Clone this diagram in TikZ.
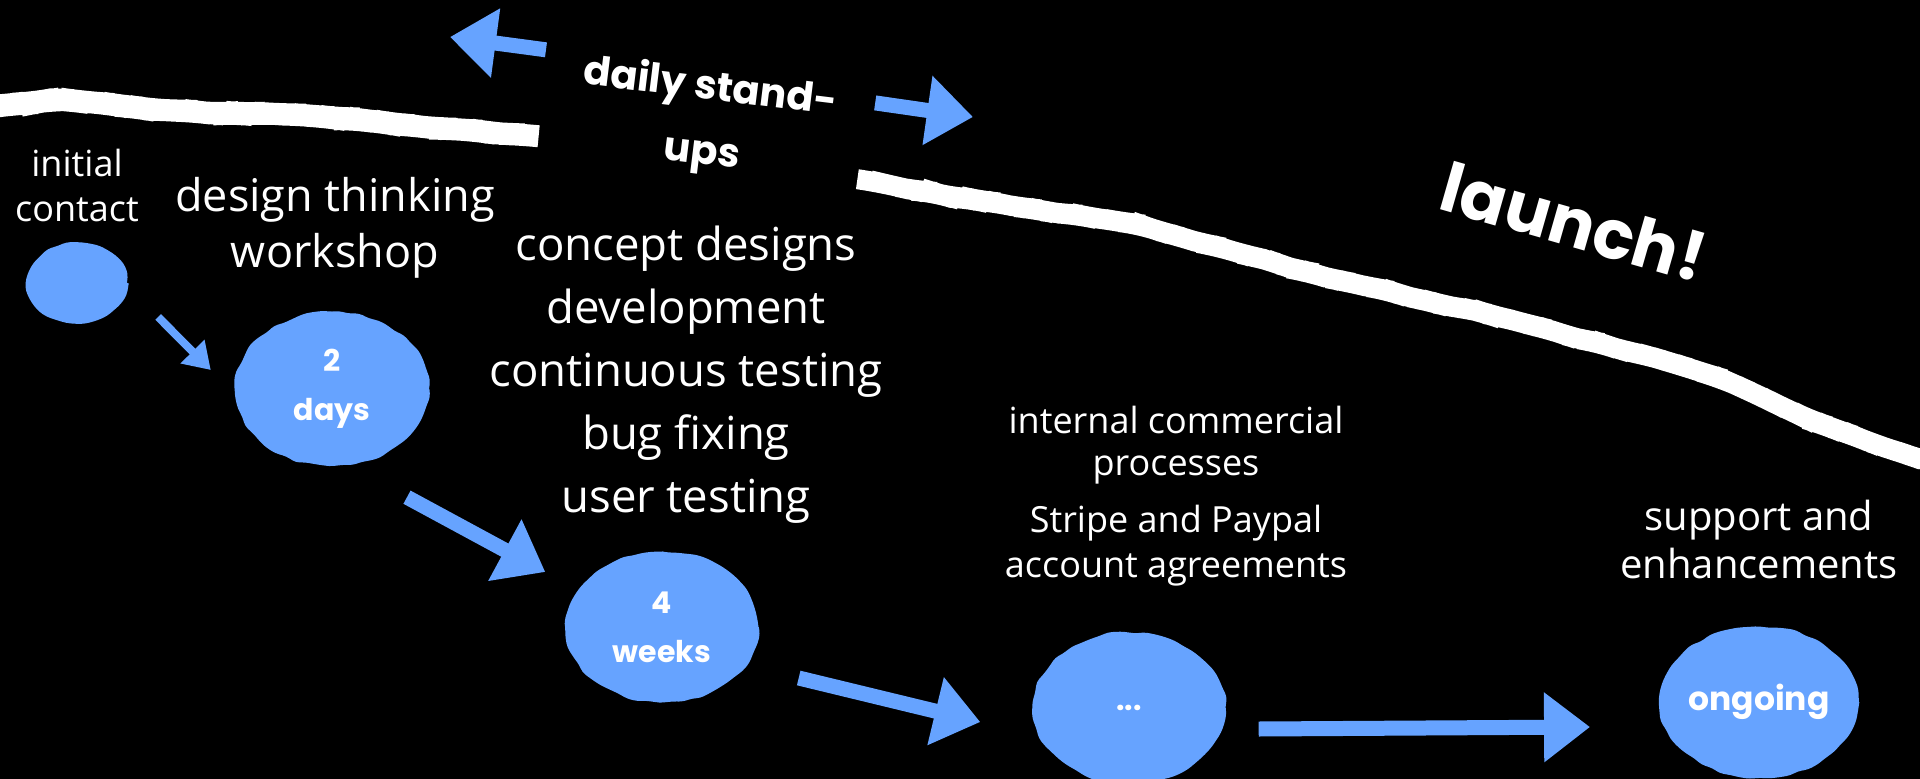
\documentclass[tikz,border=0pt]{standalone}
\usepackage{fontspec}
\setmainfont{Open Sans}
\newfontfamily\handfont{Poppins}
\usetikzlibrary{arrows.meta}
\usetikzlibrary{positioning}
\usetikzlibrary{shapes.geometric}
\usetikzlibrary{decorations.pathmorphing}
\definecolor{sky}{RGB}{102,163,255}

\begin{document}
\pgfmathsetseed{42}
\begin{tikzpicture}[x=1pt, y=1pt,
blob/.style={ellipse, fill=sky, text=white, inner sep=0pt, align=center, minimum width=193pt, minimum height=151pt, font=\handfont\bfseries\fontsize{30}{49}\selectfont, decorate, decoration={random steps, segment length=10pt, amplitude=1.5pt}, rounded corners=4pt},
flow/.style={draw=sky, line width=15pt, -{Triangle[width=67pt, length=46pt]}},
band/.style={draw=white, line width=22pt, rounded corners=20pt, decorate, decoration={random steps, segment length=14pt, amplitude=1.2pt}},
txt/.style={text=white, align=center, inner sep=0pt},
handtxt/.style={text=white, align=center, inner sep=0pt},
]
\useasboundingbox (0,0) rectangle (1920,-779);
\clip (0,0) rectangle (1920,-779);
\fill[black] (0,0) rectangle (1920,-779);

\draw[band] (-10,-106) -- (60,-100) -- (184,-112) -- (306,-115) -- (429,-127) -- (536,-136);
\draw[band, line width=20pt] (863,-180) -- (960,-198) -- (1131,-223) -- (1327,-277) -- (1511,-320) -- (1664,-360) -- (1725,-380) -- (1817,-423) -- (1930,-462);

\node[blob, minimum width=100pt, minimum height=80pt] (c1) at (77,-283) {};
\node[blob, minimum width=194pt, minimum height=154pt] (c2) at (332,-389) {2\\days};
\node[blob] (c3) at (662,-627) {4\\weeks};
\node[blob] (c4) at (1129,-708) {...};
\node[blob, font=\handfont\bfseries\fontsize{33}{40}\selectfont] (c5) at (1759,-702) {ongoing};

\node[txt, font=\fontsize{36}{45}\selectfont] (ic) [above=21pt of c1] {initial\\contact};
\node[txt, font=\fontsize{45}{56}\selectfont] (dt) at (335,-228) {design thinking\\workshop};
\node[txt, font=\fontsize{45.5}{63}\selectfont] (dev) at (686,-375) {concept designs\\development\\continuous testing\\bug fixing\\user testing};
\node[txt, font=\fontsize{36}{42}\selectfont] (icp) at (1176,-445) {internal commercial\\processes};
\node[txt, font=\fontsize{36}{45}\selectfont] (sp) [below=21pt of icp] {Stripe and Paypal\\account agreements};
\node[txt, font=\fontsize{40}{48}\selectfont] (se) [above=47pt of c5] {support and\\enhancements};
\node[handtxt, rotate=-7, font=\handfont\bfseries\fontsize{40}{65}\selectfont] (su) at (706,-121) {daily stand-\\ups};
\node[handtxt, rotate=-16, font=\handfont\bfseries\fontsize{68}{80}\selectfont] (go) at (1574,-222) {launch!};

\coordinate (back) at (450,-37);
\coordinate (fwd) at (973,-117);
\draw[flow] ([shift={(-40,2)}]su.north west) -- (back);
\draw[flow] ([shift={(36,-20)}]su.north east) -- (fwd);
\draw[flow, line width=8pt, -{Triangle[width=32pt, length=26pt]}] ([shift={(31,-34)}]c1.east) -- ([shift={(-24,19)}]c2.west);
\draw[flow] ([shift={(75,-31)}]c2.south) -- ([shift={(-20,55)}]c3.west);
\draw[flow] ([shift={(40,-51)}]c3.east) -- ([shift={(-52,-14)}]c4.west);
\draw[flow] ([shift={(33,-21)}]c4.east) -- ([shift={(-69,-25)}]c5.west);
\end{tikzpicture}
\end{document}
